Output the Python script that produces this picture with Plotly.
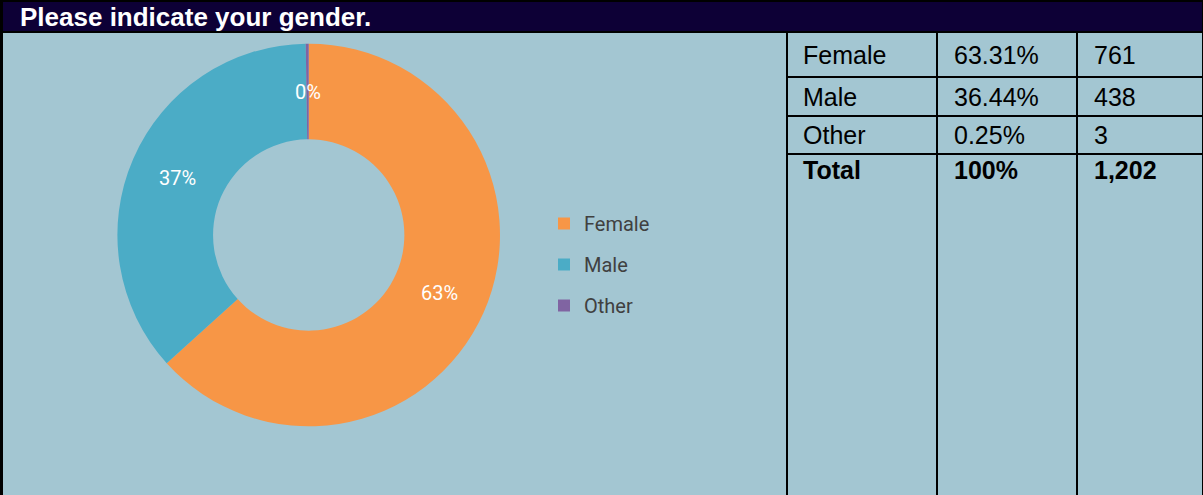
import math
import plotly.graph_objects as go

# ---- data ----
categories = ["Female", "Male", "Other"]
counts = [761, 438, 3]
chart_labels = ["63%", "37%", "0%"]
table_pct = ["63.31%", "36.44%", "0.25%"]
table_counts = ["761", "438", "3"]
total_row = ["Total", "100%", "1,202"]
title_text = "Please indicate your gender."

# ---- styles ----
W, H = 1203, 495
BG = "#A3C6D2"
NAVY = "#0D0036"
colors = ["#F79646", "#4BACC6", "#8064A2"]
HOLE = 0.5


def px(x):
    return x / W


def py(y):
    return 1 - y / H


fig = go.Figure()

# donut
cx, cy, r = 308.7, 235.0, 191.3
fig.add_trace(go.Pie(
    labels=categories,
    values=counts,
    textinfo="none",
    hole=HOLE,
    sort=False,
    direction="clockwise",
    rotation=0,
    marker=dict(colors=colors, line=dict(width=0)),
    showlegend=False,
    domain=dict(x=[px(cx - r), px(cx + r)], y=[py(cy + r), py(cy - r)]),
))

# legend entries (one per category, so the gap between them can be set)
for name, col in zip(categories, colors):
    fig.add_trace(go.Scatter(
        x=[None], y=[None], mode="markers", name=name, legendgroup=name,
        marker=dict(symbol="square", size=12, color=col),
    ))

annotations = []
# slice labels: at the middle angle of each slice, halfway across the ring
total = sum(counts)
cum = 0
r_mid = r * (1 + HOLE) / 2
for v, lab in zip(counts, chart_labels):
    mid = (cum + v / 2) / total * 2 * math.pi
    cum += v
    lx = cx + r_mid * math.sin(mid)
    ly = cy - r_mid * math.cos(mid)
    annotations.append(dict(text=lab, xref="paper", yref="paper", x=px(lx), y=py(ly),
                            xanchor="center", yanchor="middle", showarrow=False,
                            font=dict(family="Roboto", size=20, color="white")))

shapes = []
# header bar
shapes.append(dict(type="rect", xref="paper", yref="paper", x0=0, x1=1,
                   y0=py(32), y1=1, fillcolor=NAVY, line=dict(width=0), layer="below"))


def hline(y, x0, x1, w):
    shapes.append(dict(type="line", xref="paper", yref="paper", x0=px(x0), x1=px(x1),
                       y0=py(y), y1=py(y), line=dict(color="black", width=w)))


def vline(x, y0, y1, w):
    shapes.append(dict(type="line", xref="paper", yref="paper", x0=px(x), x1=px(x),
                       y0=py(y0), y1=py(y1), line=dict(color="black", width=w)))


hline(1, 0, W, 2)
hline(32, 0, W, 2)
vline(1.5, 0, H, 3)
vline(1202.5, 0, H, 1)
for x in [787, 937, 1077]:
    vline(x, 32, H, 2)
for y in [77, 116, 154]:
    hline(y, 787, W, 2)

annotations.append(dict(text=title_text, xref="paper", yref="paper", x=px(18), y=py(17.3),
                        xanchor="left", yanchor="middle", showarrow=False,
                        font=dict(family="Liberation Sans, Arial", size=26, color="white",
                                  weight="bold")))

col_x = [801, 952, 1092]
row_y = [55, 96.5, 135, 170]
rows = [[c, p, n] for c, p, n in zip(categories, table_pct, table_counts)] + [total_row]
for i, row in enumerate(rows):
    bold = i == len(rows) - 1
    for j, val in enumerate(row):
        annotations.append(dict(text=val, xref="paper", yref="paper", x=px(col_x[j]), y=py(row_y[i]),
                                xanchor="left", yanchor="middle", showarrow=False,
                                font=dict(family="Liberation Sans, Arial", size=25, color="black",
                                          weight="bold" if bold else "normal")))

fig.update_layout(
    width=W, height=H,
    margin=dict(l=0, r=0, t=0, b=0),
    paper_bgcolor=BG,
    plot_bgcolor="rgba(0,0,0,0)",
    xaxis=dict(visible=False),
    yaxis=dict(visible=False),
    showlegend=True,
    legend=dict(x=px(544), y=py(204), xanchor="left", yanchor="top",
                traceorder="grouped", tracegroupgap=12,
                bgcolor="rgba(0,0,0,0)",
                font=dict(family="Roboto", size=20, color="#404040")),
    shapes=shapes,
    annotations=annotations,
)

fig.write_html("out.html",
               config={"displayModeBar": False},
               post_script="document.body.style.margin='0';document.body.style.overflow='hidden';")
